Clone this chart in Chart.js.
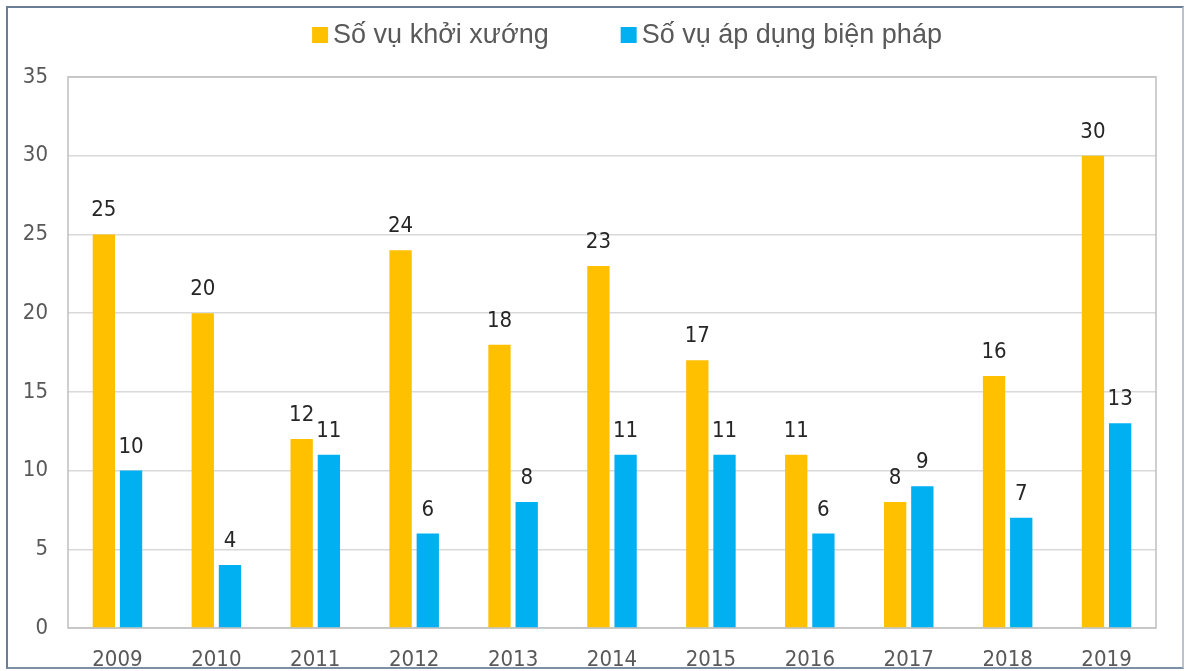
<!DOCTYPE html>
<html>
<head>
<meta charset="utf-8">
<script src="https://cdn.jsdelivr.net/npm/chart.js@4/dist/chart.umd.min.js"></script>
<style>
  html, body { margin: 0; padding: 0; background: #fff; }
  #wrap { position: relative; width: 1192px; height: 671px; }
  #frame { position: absolute; left: 6px; top: 6px; width: 1178px; height: 663px;
           border: 2px solid #6a7f97; border-right-color: #b9c3cf; border-bottom-color: #7d8fa5;
           box-sizing: border-box; pointer-events: none; }
  canvas { position: absolute; left: 0; top: 0; }
</style>
</head>
<body>
<div id="wrap">
  <canvas id="chart" width="1192" height="671"></canvas>
  <div id="frame"></div>
</div>
<script>
const years = ['2009', '2010', '2011', '2012', '2013', '2014', '2015', '2016', '2017', '2018', '2019'];
const initiated = [25, 20, 12, 24, 18, 23, 17, 11, 8, 16, 30];
const applied = [10, 4, 11, 6, 8, 11, 11, 6, 9, 7, 13];

const numFont = '"DejaVu Sans Condensed", Lato, sans-serif';

// plot area box, value labels and the legend line on top
const boxAndLabels = {
    id: 'boxAndLabels',
    beforeDatasetsDraw(chart) {
        const a = chart.chartArea;
        const ctx = chart.ctx;
        ctx.save();
        ctx.strokeStyle = '#bfbfbf';
        ctx.lineWidth = 1.5;
        ctx.strokeRect(a.left, a.top, a.right - a.left, a.bottom - a.top);
        ctx.restore();
    },
    afterDatasetsDraw(chart) {
        const ctx = chart.ctx;
        ctx.save();
        ctx.font = '22px ' + numFont;
        ctx.fillStyle = '#262626';
        ctx.textAlign = 'center';
        ctx.textBaseline = 'alphabetic';
        chart.data.datasets.forEach((ds, i) => {
            chart.getDatasetMeta(i).data.forEach((bar, j) => {
                ctx.fillText(ds.data[j], bar.x, bar.y - 18);
            });
        });

        // legend
        ctx.font = '27px "Liberation Sans", Arial, sans-serif';
        ctx.textAlign = 'left';
        const gap = 72;
        const items = chart.data.datasets.map(ds => ({
            label: ds.label, color: ds.backgroundColor, w: 16 + 5 + ctx.measureText(ds.label).width
        }));
        const total = items.reduce((s, it) => s + it.w, 0) + gap * (items.length - 1);
        let x = 627 - total / 2;
        items.forEach(it => {
            ctx.fillStyle = it.color;
            ctx.fillRect(x, 27, 16, 16);
            ctx.fillStyle = '#595959';
            ctx.fillText(it.label, x + 21, 43);
            x += it.w + gap;
        });
        ctx.restore();
    }
};

const ctx = document.getElementById('chart').getContext('2d');
const chart = new Chart(ctx, {
    type: 'bar',
    data: {
        labels: years,
        datasets: [{
            label: 'Số vụ khởi xướng',
            data: initiated,
            backgroundColor: '#ffc000',
            categoryPercentage: 0.55,
            barPercentage: 0.82
        }, {
            label: 'Số vụ áp dụng biện pháp',
            data: applied,
            backgroundColor: '#00b0f0',
            categoryPercentage: 0.55,
            barPercentage: 0.82
        }]
    },
    options: {
        responsive: false,
        animation: false,
        layout: { padding: { left: 0, right: 36, top: 77, bottom: 0 } },
        plugins: {
            tooltip: { enabled: false },
            legend: { display: false }
        },
        scales: {
            x: {
                grid: { display: false },
                border: { display: false },
                afterFit: (scale) => { scale.height = 43; },
                ticks: {
                    color: '#595959',
                    padding: 11,
                    font: { size: 22, family: numFont }
                }
            },
            y: {
                min: 0,
                max: 35,
                afterFit: (scale) => { scale.width = 68; },
                ticks: {
                    stepSize: 5,
                    color: '#595959',
                    padding: 20,
                    font: { size: 22, family: numFont }
                },
                grid: { color: '#d9d9d9', lineWidth: 1.5, drawTicks: false },
                border: { display: false }
            }
        }
    },
    plugins: [boxAndLabels]
});
</script>
</body>
</html>
